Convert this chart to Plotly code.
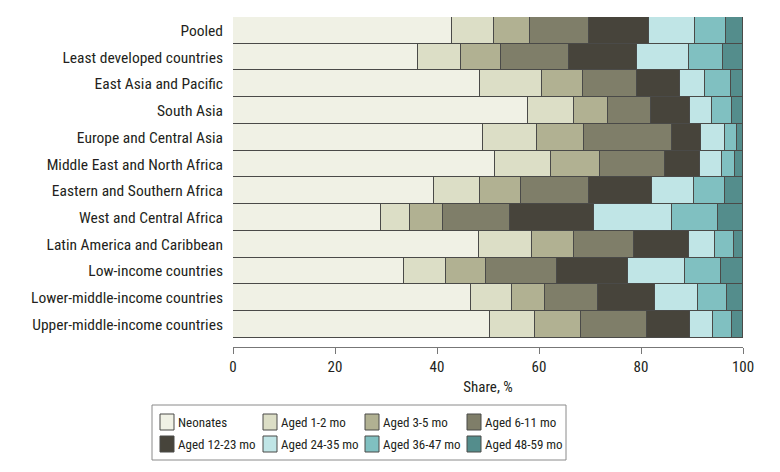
import plotly.graph_objects as go

categories = [
    "Pooled",
    "Least developed countries",
    "East Asia and Pacific",
    "South Asia",
    "Europe and Central Asia",
    "Middle East and North Africa",
    "Eastern and Southern Africa",
    "West and Central Africa",
    "Latin America and Caribbean",
    "Low-income countries",
    "Lower-middle-income countries",
    "Upper-middle-income countries",
]

series_names = ["Neonates", "Aged 1-2 mo", "Aged 3-5 mo", "Aged 6-11 mo",
                "Aged 12-23 mo", "Aged 24-35 mo", "Aged 36-47 mo", "Aged 48-59 mo"]

neonates = [42.9, 36.2, 48.5, 57.8, 49.0, 51.4, 39.5, 29.0, 48.3, 33.6, 46.7, 50.4]
aged_1_2 = [8.2, 8.6, 12.1, 9.1, 10.7, 10.9, 9.0, 5.8, 10.3, 8.1, 8.1, 8.8]
aged_3_5 = [7.2, 7.7, 8.1, 6.6, 9.2, 9.7, 8.0, 6.4, 8.3, 8.0, 6.4, 9.1]
aged_6_11 = [11.5, 13.4, 10.5, 8.4, 17.2, 12.8, 13.4, 13.1, 11.8, 13.9, 10.4, 12.9]
aged_12_23 = [11.8, 13.3, 8.4, 7.7, 5.6, 6.7, 12.2, 16.5, 10.7, 13.9, 11.1, 8.5]
aged_24_35 = [9.0, 10.2, 4.9, 4.4, 4.8, 4.3, 8.2, 15.3, 5.2, 11.1, 8.4, 4.4]
aged_36_47 = [6.1, 6.7, 5.1, 3.8, 2.4, 2.7, 6.1, 9.0, 3.6, 7.1, 5.8, 3.7]
aged_48_59 = [3.3, 3.9, 2.4, 2.2, 1.1, 1.5, 3.6, 4.9, 1.8, 4.3, 3.1, 2.2]

series_values = [neonates, aged_1_2, aged_3_5, aged_6_11,
                 aged_12_23, aged_24_35, aged_36_47, aged_48_59]

colors = ["#f0f1e5", "#dcdec6", "#b1b192", "#7f7e69",
          "#47443b", "#c0e5e6", "#80c0c1", "#548d8c"]

x_ticks = [0, 20, 40, 60, 80, 100]

FONT = "Roboto Condensed"
TXT = "#231f20"
W, H = 780, 472
OFF = 8  # the page body adds an 8px margin around the plot div
# target plot area in screenshot pixels: x 233..743, y 17..347
ML, MT = 233 - OFF, 17 - OFF
MR = W - (743 - OFF)
MB = H - (347 - OFF)
PW, PH = W - ML - MR, H - MT - MB


def px(xs):
    return (xs - OFF - ML) / PW


def py(ys):
    return (H - MB - (ys - OFF)) / PH


fig = go.Figure()
for name, vals, col in zip(series_names, series_values, colors):
    fig.add_trace(go.Bar(
        y=categories, x=vals, name=name, orientation="h",
        marker=dict(color=col, line=dict(color="#4a4a48", width=1)),
        showlegend=False,
    ))

# Manual legend (2 rows x 4 columns) in paper coordinates
shapes = [dict(type="rect", xref="paper", yref="paper",
               x0=px(152), x1=px(566), y0=py(405), y1=py(460),
               line=dict(color="#8a8a8a", width=1), fillcolor="white", layer="above")]
annotations = []
col_x = [160, 263, 365, 467]
row_y = [414, 436]
for i, (name, col) in enumerate(zip(series_names, colors)):
    r, c = divmod(i, 4)
    x0, y0 = col_x[c], row_y[r]
    shapes.append(dict(type="rect", xref="paper", yref="paper",
                       x0=px(x0), x1=px(x0 + 14), y0=py(y0), y1=py(y0 + 16),
                       line=dict(color="#4a4a48", width=1), fillcolor=col, layer="above"))
    annotations.append(dict(xref="paper", yref="paper", x=px(x0 + 16), y=py(y0 + 8.5),
                            text=name, showarrow=False, xanchor="left", yanchor="middle",
                            font=dict(family=FONT, size=13, color=TXT)))

fig.update_layout(
    barmode="stack",
    bargap=0,
    width=W, height=H,
    margin=dict(l=ML, r=MR, t=MT, b=MB, autoexpand=False),
    plot_bgcolor="white",
    paper_bgcolor="white",
    font=dict(family=FONT, size=15, color=TXT),
    showlegend=False,
    shapes=shapes,
    annotations=annotations,
    xaxis=dict(
        range=[0, 100],
        tickvals=x_ticks,
        ticktext=[str(v) for v in x_ticks],
        showgrid=False, zeroline=False, automargin=False,
        showline=True, linecolor="#777777", linewidth=1,
        ticks="outside", ticklen=6, tickcolor="#777777",
        tickfont=dict(family=FONT, size=15, color=TXT),
        title=dict(text="Share, %", font=dict(family=FONT, size=15, color=TXT), standoff=6),
    ),
    yaxis=dict(
        categoryorder="array",
        categoryarray=categories,
        range=[11.84, -0.5],
        showgrid=False, zeroline=False, showline=False, automargin=False,
        ticks="", ticklabelstandoff=9,
        tickfont=dict(family=FONT, size=15.5, color=TXT),
    ),
)

fig.write_html("out.html")
